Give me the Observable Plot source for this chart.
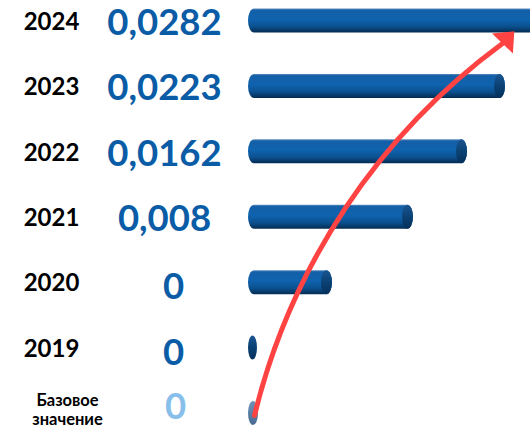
<!DOCTYPE html>
<html><head><meta charset="utf-8">
<script src="https://cdn.jsdelivr.net/npm/d3@7"></script>
<script src="https://cdn.jsdelivr.net/npm/@observablehq/plot@0.6"></script>
<style>
html,body{margin:0;padding:0;background:#fff;overflow:hidden;}
</style></head><body><div id="chart"></div>
<script>
// Categories (rows, top to bottom)
const categories = ["2024", "2023", "2022", "2021", "2020", "2019", "Базовое значение"];
// Values shown next to each row
const values = [0.0282, 0.0223, 0.0162, 0.008, 0, 0, 0];
// Drawn cylinder lengths (arbitrary units)
const barLength = [300, 257, 219, 165, 84, 9, 10];
// Red trend arrow annotation (x in bar units, row in row index units)
const arrowStart = {x: 6, row: 6.03};
const arrowEnd = {x: 254, row: 0.344};

const data = categories.map((c, i) => ({
  category: c,
  row: i,
  value: values[i],
  label: String(values[i]).replace(".", ","),
  len: barLength[i],
  base: i === categories.length - 1
}));

const capW = 11;
const half = 0.183;

const headSymbol = {
  draw(context) {
    const a = 44 * Math.PI / 180, c = Math.cos(a), s = Math.sin(a);
    const pts = [[0, -17], [-14.5, 0], [14.5, 0]].map(([x, y]) => [x * c - y * s, x * s + y * c]);
    context.moveTo(pts[0][0], pts[0][1]);
    context.lineTo(pts[1][0], pts[1][1]);
    context.lineTo(pts[2][0], pts[2][1]);
    context.closePath();
  }
};

const font = "Lato, 'Open Sans', 'DejaVu Sans', sans-serif";

const svg = Plot.plot({
  width: 530,
  height: 428,
  margin: 0,
  style: {fontFamily: font, background: "#fff", overflow: "hidden"},
  x: {domain: [0, 282], range: [248, 530], axis: null},
  y: {domain: [0, 6], range: [20.5, 413], axis: null},
  marks: [
    // cylinder bodies
    Plot.rect(data.filter(d => d.len > capW), {
      x1: 0, x2: "len",
      y1: d => d.row - half, y2: d => d.row + half,
      fill: "url(#barGrad)", rx: 6, ry: 12, clip: true
    }),
    // cylinder end caps
    Plot.rect(data.filter(d => !d.base), {
      x1: d => Math.max(0, d.len - capW), x2: "len",
      y1: d => d.row - half, y2: d => d.row + half,
      fill: "url(#capGrad)", rx: "50%", ry: "50%", clip: true
    }),
    Plot.rect(data.filter(d => d.base), {
      x1: d => Math.max(0, d.len - capW), x2: "len",
      y1: d => d.row - half, y2: d => d.row + half,
      fill: "url(#baseGrad)", rx: "50%", ry: "50%"
    }),
    // year labels
    Plot.text(data.filter(d => !d.base), {
      y: "row", text: "category", frameAnchor: "left", dx: 51, dy: 1,
      textAnchor: "middle", fontSize: 24, fontWeight: "bold", fill: "#000"
    }),
    Plot.text(data.filter(d => d.base), {
      y: "row", text: d => d.category.replace(" ", "\n"), frameAnchor: "left", dx: 67, dy: -4,
      textAnchor: "middle", fontSize: 16.5, fontWeight: "bold", fill: "#000", lineHeight: 1.15
    }),
    // value labels
    Plot.text(data.filter(d => !d.base && d.value !== 0), {
      y: "row", text: "label", frameAnchor: "left", dx: 164, dy: 2,
      textAnchor: "middle", fontSize: 36.5, fontWeight: "bold", fill: "#0b5ca6"
    }),
    Plot.text(data.filter(d => !d.base && d.value === 0), {
      y: "row", text: "label", frameAnchor: "left", dx: 173, dy: 5,
      textAnchor: "middle", fontSize: 36.5, fontWeight: "bold", fill: "#0b5ca6"
    }),
    Plot.text(data.filter(d => d.base), {
      y: "row", text: "label", frameAnchor: "left", dx: 175, dy: -6,
      textAnchor: "middle", fontSize: 36.5, fontWeight: "bold", fill: "#88bfea"
    }),
    // red arrow
    Plot.arrow([{x1: arrowStart.x, y1: arrowStart.row, x2: arrowEnd.x, y2: arrowEnd.row}], {
      x1: "x1", y1: "y1", x2: "x2", y2: "y2", bend: 20,
      stroke: "#ff4343", strokeWidth: 5, headLength: 0
    }),
    Plot.dot([arrowEnd], {x: "x", y: "row", symbol: headSymbol, fill: "#ff4343", r: 10})
  ]
});

const defs = d3.select(svg).insert("defs", ":first-child");
function grad(id, stops) {
  const g = defs.append("linearGradient").attr("id", id)
    .attr("x1", 0).attr("y1", 0).attr("x2", 0).attr("y2", 1);
  stops.forEach(([o, c]) => g.append("stop").attr("offset", o).attr("stop-color", c));
}
grad("barGrad", [[0, "#5f8fc0"], [0.07, "#145fa8"], [0.45, "#0f63ae"], [0.75, "#0b508f"], [1, "#042c52"]]);
grad("capGrad", [[0, "#1a5590"], [0.5, "#0b4274"], [1, "#05305a"]]);
grad("baseGrad", [[0, "#7093b8"], [0.5, "#5b80a6"], [1, "#46698f"]]);

document.getElementById("chart").appendChild(svg);
</script>
</body></html>
